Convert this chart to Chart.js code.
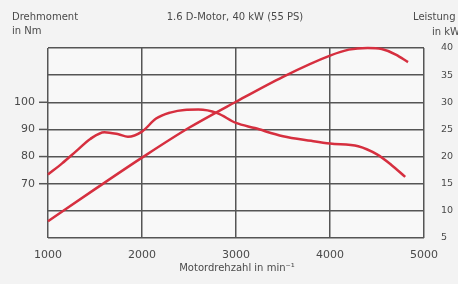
<!DOCTYPE html>
<html>
<head>
<meta charset="utf-8">
<script src="https://cdn.jsdelivr.net/npm/chart.js@4/dist/chart.umd.min.js"></script>
<style>
  html, body { margin: 0; padding: 0; background: #f3f3f3; }
  #wrap { width: 458px; height: 284px; }
</style>
</head>
<body>
<div id="wrap"><canvas id="chart" width="458" height="284"></canvas></div>
<script>
// Drehmoment (Nm) over rpm
const torqueRpm = [1000, 1150, 1300, 1450, 1600, 1750, 1850, 2000, 2150, 2300, 2450, 2600, 2800, 3000, 3200, 3500, 3800, 4000, 4300, 4500, 4650, 4800];
const torqueNm  = [73.4, 77.5, 82, 86.5, 89, 88.2, 87.3, 89.2, 94, 96.2, 97.2, 97.3, 96, 92.4, 90.5, 87.5, 85.8, 84.8, 83.8, 80.8, 77, 72.5];

// Leistung (kW) over rpm
const powerRpm = [1000, 1500, 2000, 2500, 3000, 3500, 4000, 4200, 4400, 4550, 4700, 4830];
const powerKw  = [8.1, 14, 19.8, 25.3, 30.1, 34.7, 38.6, 39.7, 40, 39.8, 38.8, 37.4];

const rpmTicks = [1000, 2000, 3000, 4000, 5000];
const torqueLabels = [70, 80, 90, 100];

const gridColor = '#555';
const textColor = '#4a4a4a';
const curveColor = '#d62f3f';
const fontFamily = '"DejaVu Sans", sans-serif';

const toPoints = (xs, ys) => xs.map((x, i) => ({ x: x, y: ys[i] }));

const background = {
    id: 'background',
    beforeDraw(chart) {
        const ctx = chart.ctx;
        const a = chart.chartArea;
        ctx.save();
        ctx.fillStyle = '#f3f3f3';
        ctx.fillRect(0, 0, chart.width, chart.height);
        ctx.fillStyle = '#f8f8f8';
        ctx.fillRect(a.left, a.top, a.right - a.left, a.bottom - a.top);
        ctx.restore();
    }
};

// short tick marks left of the labelled torque values
const torqueTicks = {
    id: 'torqueTicks',
    afterDraw(chart) {
        const ctx = chart.ctx;
        const s = chart.scales.yNm;
        ctx.save();
        ctx.strokeStyle = gridColor;
        ctx.lineWidth = 1.5;
        torqueLabels.forEach(v => {
            const y = s.getPixelForValue(v);
            ctx.beginPath();
            ctx.moveTo(39, y);
            ctx.lineTo(chart.chartArea.left, y);
            ctx.stroke();
        });
        ctx.restore();
    }
};

const headers = {
    id: 'headers',
    afterDraw(chart) {
        const ctx = chart.ctx;
        ctx.save();
        ctx.fillStyle = textColor;
        ctx.textBaseline = 'middle';
        ctx.font = '10px ' + fontFamily;
        ctx.textAlign = 'left';
        ctx.fillText('Drehmoment', 12, 17);
        ctx.fillText('in Nm', 12, 31);
        ctx.fillText('Leistung', 413, 17);
        ctx.fillText('in kW', 432, 32);
        ctx.textAlign = 'center';
        ctx.fillText('1.6 D-Motor, 40 kW (55 PS)', 235, 17);
        ctx.fillText('Motordrehzahl in min\u207B\u00B9', 237, 268);
        ctx.restore();
    }
};

new Chart(document.getElementById('chart'), {
    type: 'line',
    data: {
        datasets: [
            {
                label: 'Drehmoment',
                data: toPoints(torqueRpm, torqueNm),
                yAxisID: 'yNm',
                borderColor: curveColor,
                borderWidth: 2.5,
                pointRadius: 0,
                cubicInterpolationMode: 'monotone',
                clip: false
            },
            {
                label: 'Leistung',
                data: toPoints(powerRpm, powerKw),
                yAxisID: 'yKw',
                borderColor: curveColor,
                borderWidth: 2.5,
                pointRadius: 0,
                cubicInterpolationMode: 'monotone',
                clip: false
            }
        ]
    },
    options: {
        responsive: false,
        animation: false,
        layout: { padding: { top: 48, left: 0, right: 0, bottom: 0 } },
        plugins: { legend: { display: false }, tooltip: { enabled: false } },
        scales: {
            x: {
                type: 'linear',
                min: 1000,
                max: 5000,
                afterBuildTicks: scale => { scale.ticks = rpmTicks.map(v => ({ value: v })); },
                afterFit: scale => { scale.height = 46; },
                grid: { color: gridColor, lineWidth: 1.5, drawTicks: false },
                border: { display: false },
                ticks: {
                    padding: 11,
                    color: textColor,
                    font: { family: fontFamily, size: 11 },
                    maxRotation: 0,
                    callback: v => String(v)
                }
            },
            yNm: {
                position: 'left',
                min: 50,
                max: 120,
                afterFit: scale => { scale.width = 48; },
                grid: { color: gridColor, lineWidth: 1.5, drawTicks: false },
                border: { display: false },
                ticks: {
                    stepSize: 10,
                    padding: 13,
                    color: textColor,
                    font: { family: fontFamily, size: 11 },
                    callback: v => torqueLabels.includes(v) ? String(v) : ''
                }
            },
            yKw: {
                position: 'right',
                min: 5,
                max: 40,
                afterFit: scale => { scale.width = 34; },
                grid: { drawOnChartArea: false, drawTicks: false },
                border: { display: false },
                ticks: {
                    stepSize: 5,
                    padding: 17,
                    color: textColor,
                    font: { family: fontFamily, size: 9.5 }
                }
            }
        }
    },
    plugins: [background, torqueTicks, headers]
});
</script>
</body>
</html>
